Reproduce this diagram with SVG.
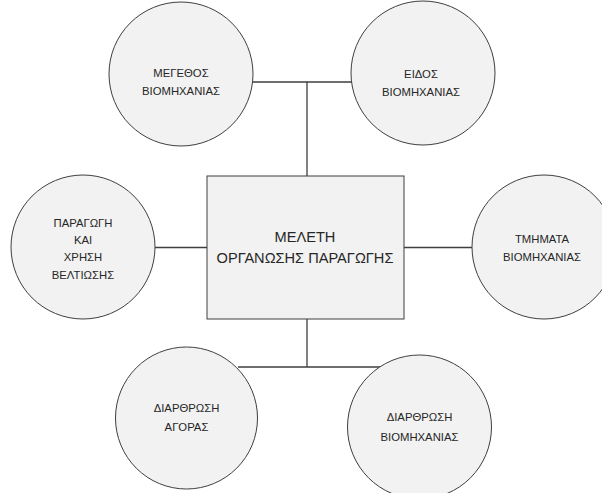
<svg xmlns="http://www.w3.org/2000/svg" width="602" height="493" viewBox="0 0 602 493">
<style>
.n{fill:#f2f2f2;stroke:#3f3f3f;stroke-width:1}
.c{stroke:#3f3f3f;stroke-width:1.3;fill:none}
text{font-family:"Liberation Sans",Arial,sans-serif;font-size:11.3px;fill:#262626;text-anchor:middle}
.big{font-size:14.6px}
</style>
<rect width="602" height="493" fill="#ffffff"/>
<g id="connectors">
<path class="c" d="M252 82H352M307 82V176"/>
<path class="c" d="M154 247.5H207M404 247.5H473"/>
<path class="c" d="M307 319V367M238 367H382"/>
</g>
<g id="megethos"><circle class="n" cx="181" cy="74" r="72"/><text x="181" y="77">ΜΕΓΕΘΟΣ</text><text x="181" y="95">ΒΙΟΜΗΧΑΝΙΑΣ</text></g>
<g id="eidos"><circle class="n" cx="423" cy="73" r="72"/><text x="421" y="78">ΕΙΔΟΣ</text><text x="421" y="96">ΒΙΟΜΗΧΑΝΙΑΣ</text></g>
<g id="paragogi"><circle class="n" cx="83" cy="247" r="72"/><text x="83" y="227">ΠΑΡΑΓΩΓΗ</text><text x="83" y="244">ΚΑΙ</text><text x="83" y="261">ΧΡΗΣΗ</text><text x="83" y="279">ΒΕΛΤΙΩΣΗΣ</text></g>
<g id="meleti"><rect class="n" x="207" y="176" width="197" height="143"/><text class="big" x="305" y="242">ΜΕΛΕΤΗ</text><text class="big" x="305" y="263">ΟΡΓΑΝΩΣΗΣ ΠΑΡΑΓΩΓΗΣ</text></g>
<g id="tmimata"><circle class="n" cx="544" cy="247" r="72"/><text x="542" y="243">ΤΜΗΜΑΤΑ</text><text x="542" y="261">ΒΙΟΜΗΧΑΝΙΑΣ</text></g>
<g id="agoras"><circle class="n" cx="186.5" cy="418" r="71"/><text x="186.5" y="412">ΔΙΑΡΘΡΩΣΗ</text><text x="186.5" y="431">ΑΓΟΡΑΣ</text></g>
<g id="diarthrosi"><circle class="n" cx="419.5" cy="427" r="72"/><text x="419.5" y="421">ΔΙΑΡΘΡΩΣΗ</text><text x="419.5" y="441">ΒΙΟΜΗΧΑΝΙΑΣ</text></g>
</svg>
